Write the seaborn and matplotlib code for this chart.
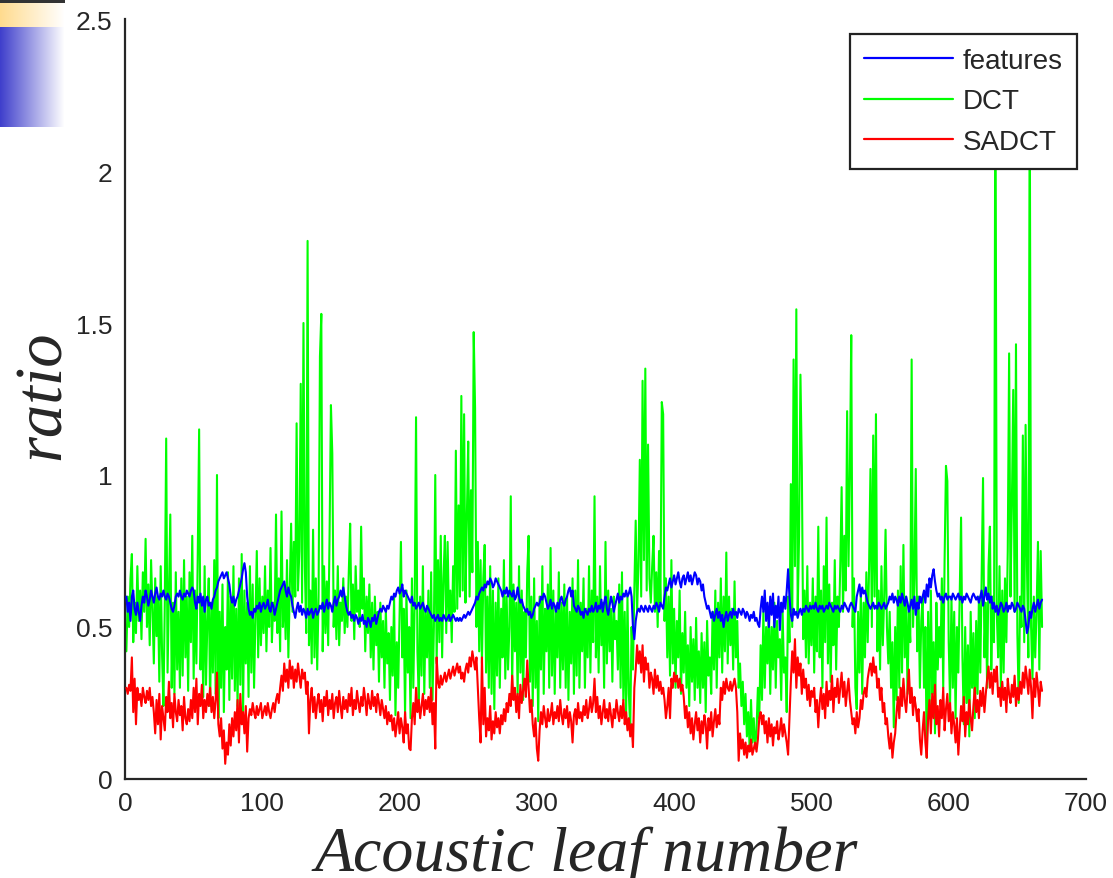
import numpy as np
import pandas as pd
import matplotlib
matplotlib.use("Agg")
import matplotlib.pyplot as plt
from matplotlib.ticker import FuncFormatter
from matplotlib.lines import Line2D
import seaborn as sns

# ratio per acoustic leaf, three coding schemes
features = [
    0.6,0.55,0.58,0.52,0.6,0.62,0.56,0.54,0.58,0.55,0.52,0.57,0.6,0.58,0.62,0.6,0.57,0.59,0.62,0.6,
    0.58,0.61,0.63,0.6,0.59,0.61,0.6,0.62,0.6,0.59,0.61,0.6,0.58,0.56,0.55,0.57,0.6,0.61,0.6,0.62,
    0.6,0.59,0.61,0.6,0.62,0.61,0.6,0.62,0.63,0.62,0.58,0.56,0.6,0.58,0.61,0.57,0.6,0.55,0.59,0.6,
    0.57,0.58,0.56,0.59,0.6,0.62,0.63,0.65,0.66,0.67,0.68,0.66,0.67,0.68,0.66,0.64,0.6,0.58,0.6,0.57,
    0.59,0.6,0.62,0.64,0.66,0.69,0.71,0.68,0.6,0.56,0.54,0.55,0.53,0.56,0.55,0.57,0.56,0.58,0.55,0.57,
    0.58,0.56,0.57,0.59,0.56,0.55,0.58,0.57,0.54,0.56,0.58,0.6,0.62,0.63,0.64,0.65,0.62,0.6,0.63,0.61,
    0.6,0.57,0.55,0.53,0.56,0.58,0.55,0.57,0.54,0.56,0.55,0.53,0.56,0.54,0.55,0.56,0.53,0.55,0.56,0.54,
    0.55,0.57,0.56,0.58,0.55,0.57,0.59,0.56,0.58,0.57,0.55,0.58,0.6,0.57,0.59,0.6,0.62,0.6,0.63,0.6,
    0.57,0.55,0.54,0.55,0.53,0.54,0.52,0.54,0.53,0.51,0.53,0.52,0.54,0.51,0.52,0.5,0.53,0.52,0.5,0.53,
    0.52,0.54,0.51,0.53,0.55,0.56,0.55,0.57,0.56,0.55,0.57,0.56,0.58,0.6,0.59,0.61,0.6,0.62,0.63,0.61,
    0.62,0.64,0.6,0.62,0.61,0.6,0.59,0.58,0.6,0.57,0.58,0.56,0.57,0.58,0.56,0.57,0.58,0.56,0.55,0.57,
    0.56,0.55,0.54,0.53,0.54,0.52,0.53,0.54,0.52,0.53,0.52,0.54,0.53,0.52,0.53,0.54,0.52,0.53,0.54,0.53,
    0.52,0.53,0.52,0.53,0.52,0.53,0.54,0.53,0.54,0.55,0.54,0.55,0.56,0.57,0.58,0.6,0.59,0.61,0.62,0.63,
    0.62,0.64,0.63,0.65,0.64,0.66,0.65,0.63,0.64,0.66,0.65,0.64,0.63,0.62,0.6,0.62,0.61,0.63,0.6,0.62,
    0.61,0.6,0.62,0.59,0.6,0.63,0.6,0.58,0.59,0.57,0.56,0.55,0.56,0.54,0.55,0.53,0.54,0.56,0.57,0.58,
    0.57,0.58,0.6,0.59,0.61,0.6,0.58,0.56,0.57,0.59,0.56,0.58,0.57,0.55,0.58,0.56,0.59,0.6,0.58,0.57,
    0.59,0.6,0.62,0.63,0.6,0.62,0.57,0.56,0.55,0.57,0.56,0.54,0.55,0.53,0.56,0.55,0.54,0.56,0.55,0.57,
    0.55,0.56,0.58,0.55,0.57,0.56,0.59,0.55,0.58,0.6,0.56,0.54,0.57,0.6,0.58,0.55,0.57,0.59,0.61,0.58,
    0.6,0.59,0.61,0.6,0.62,0.6,0.61,0.63,0.6,0.5,0.46,0.52,0.55,0.56,0.55,0.57,0.56,0.55,0.57,0.56,
    0.55,0.57,0.56,0.55,0.57,0.56,0.58,0.57,0.55,0.58,0.57,0.56,0.6,0.63,0.62,0.64,0.66,0.63,0.65,0.67,
    0.64,0.66,0.68,0.65,0.63,0.66,0.67,0.64,0.66,0.68,0.65,0.67,0.64,0.66,0.68,0.67,0.64,0.66,0.65,0.62,
    0.64,0.6,0.58,0.56,0.57,0.55,0.53,0.55,0.52,0.54,0.56,0.53,0.55,0.52,0.54,0.5,0.53,0.55,0.52,0.54,
    0.55,0.53,0.56,0.54,0.55,0.53,0.56,0.55,0.54,0.56,0.55,0.53,0.55,0.54,0.52,0.54,0.53,0.55,0.52,0.53,
    0.51,0.5,0.56,0.6,0.55,0.62,0.52,0.58,0.5,0.6,0.54,0.61,0.5,0.57,0.53,0.6,0.49,0.58,0.55,0.6,
    0.56,0.62,0.69,0.6,0.54,0.52,0.56,0.54,0.55,0.53,0.55,0.56,0.54,0.56,0.55,0.57,0.56,0.55,0.57,0.56,
    0.57,0.56,0.58,0.56,0.55,0.57,0.56,0.57,0.55,0.56,0.57,0.56,0.58,0.57,0.56,0.55,0.57,0.56,0.57,0.56,
    0.55,0.57,0.56,0.58,0.57,0.56,0.55,0.57,0.58,0.57,0.56,0.55,0.6,0.62,0.64,0.6,0.63,0.61,0.62,0.6,
    0.58,0.57,0.56,0.57,0.58,0.56,0.57,0.56,0.58,0.57,0.56,0.57,0.58,0.56,0.57,0.58,0.6,0.59,0.61,0.58,
    0.6,0.59,0.57,0.6,0.58,0.61,0.59,0.57,0.6,0.58,0.55,0.57,0.59,0.56,0.6,0.54,0.58,0.56,0.6,0.58,
    0.6,0.62,0.58,0.64,0.6,0.66,0.63,0.67,0.69,0.65,0.62,0.6,0.61,0.59,0.6,0.58,0.6,0.61,0.59,0.6,
    0.6,0.59,0.61,0.6,0.59,0.6,0.61,0.59,0.6,0.58,0.6,0.59,0.61,0.6,0.59,0.58,0.6,0.61,0.6,0.59,
    0.6,0.58,0.6,0.62,0.57,0.6,0.63,0.59,0.61,0.58,0.6,0.56,0.58,0.55,0.57,0.54,0.56,0.58,0.57,0.55,
    0.56,0.58,0.55,0.57,0.56,0.58,0.57,0.55,0.56,0.58,0.57,0.56,0.55,0.57,0.56,0.52,0.48,0.5,0.55,0.53,
    0.56,0.58,0.55,0.57,0.59,0.56,0.58,0.59,
]

dct = [
    0.42,0.6,0.5,0.66,0.74,0.45,0.58,0.48,0.7,0.52,0.62,0.46,0.68,0.55,0.79,0.5,0.64,0.44,0.72,0.56,
    0.38,0.66,0.47,0.6,0.32,0.7,0.41,0.24,0.58,1.12,0.35,0.62,0.87,0.3,0.58,0.28,0.68,0.36,0.55,0.3,
    0.66,0.34,0.72,0.4,0.6,0.29,0.68,0.45,0.8,0.33,0.62,0.38,0.74,1.15,0.36,0.57,0.27,0.7,0.31,0.52,
    0.66,0.24,0.58,0.35,0.72,0.28,1.0,0.2,0.55,0.3,0.64,0.22,0.5,0.36,0.68,0.26,0.6,0.33,0.7,0.29,
    0.56,0.24,0.66,0.31,0.74,0.22,0.62,0.38,0.58,0.27,0.7,0.35,0.64,0.3,0.52,0.75,0.4,0.66,0.44,0.6,
    0.48,0.7,0.42,0.62,0.5,0.76,0.45,0.58,0.52,0.87,0.48,0.66,0.42,0.88,0.5,0.64,0.46,0.72,0.4,0.62,
    0.84,0.55,0.78,0.6,1.17,0.62,0.75,1.3,0.58,1.5,0.7,0.48,1.77,0.44,0.62,0.38,0.82,0.4,0.66,0.36,
    0.6,1.39,1.53,0.42,0.7,0.48,0.65,0.44,0.8,1.23,1.07,0.5,0.62,0.46,0.7,0.44,0.58,0.52,0.66,0.48,
    0.6,0.5,0.68,0.84,0.52,0.64,0.46,0.7,0.55,0.62,0.5,0.83,0.56,0.66,0.42,0.6,0.48,0.64,0.4,0.58,
    0.36,0.6,0.44,0.55,0.32,0.58,0.4,0.52,0.3,0.56,0.38,0.48,0.26,0.5,0.34,0.6,0.21,0.45,0.3,0.55,
    0.78,0.4,0.56,0.21,0.62,0.35,0.5,0.2,0.66,0.3,0.58,1.19,0.42,0.26,0.6,0.34,0.7,0.28,0.55,0.4,
    0.62,0.3,0.68,0.26,0.5,1.0,0.38,0.72,0.45,0.8,0.4,0.66,0.8,0.48,0.78,0.52,0.62,0.45,0.7,0.55,
    1.08,0.56,0.9,0.6,1.26,0.62,1.2,0.58,0.86,1.11,0.6,0.95,0.68,1.47,1.22,0.5,0.78,0.42,0.72,0.38,
    0.66,0.77,0.35,0.6,0.3,0.7,0.28,0.62,0.23,0.58,0.34,0.66,0.3,0.56,0.4,0.72,0.33,0.6,0.36,0.5,
    0.93,0.3,0.64,0.42,0.58,0.28,0.7,0.35,0.62,0.26,0.55,0.4,0.68,0.8,0.32,0.6,0.24,0.66,0.3,0.52,
    0.19,0.6,0.36,0.7,0.28,0.56,0.42,0.64,0.3,0.76,0.34,0.62,0.28,0.55,0.4,0.68,0.3,0.58,0.36,0.64,
    0.3,0.6,0.26,0.55,0.38,0.66,0.28,0.62,0.34,0.72,0.3,0.58,0.42,0.66,0.3,0.56,0.4,0.7,0.35,0.62,
    0.45,0.93,0.4,0.6,0.35,0.7,0.44,0.58,0.3,0.78,0.38,0.62,0.42,0.56,0.32,0.6,0.46,0.52,0.36,0.64,
    0.3,0.68,0.26,0.55,0.2,0.6,0.28,0.17,0.5,0.36,0.62,0.85,0.55,0.7,1.05,0.6,1.31,0.72,1.35,0.62,
    1.1,0.66,0.58,0.7,0.8,0.55,0.68,0.5,0.75,0.58,1.24,1.2,0.52,0.66,0.4,0.6,0.34,0.72,0.38,0.56,
    0.3,0.52,0.4,0.62,0.28,0.48,0.35,0.55,0.3,0.44,0.24,0.5,0.32,0.46,0.26,0.53,0.3,0.42,0.25,0.48,
    0.3,0.45,0.22,0.52,0.34,0.4,0.28,0.55,0.36,0.62,0.3,0.58,0.4,0.66,0.35,0.6,0.42,0.745,0.38,0.6,
    0.44,0.56,0.36,0.65,0.4,0.52,0.3,0.38,0.24,0.32,0.18,0.28,0.14,0.22,0.1,0.26,0.12,0.2,0.1,0.16,
    0.3,0.2,0.44,0.26,0.55,0.3,0.5,0.38,0.56,0.28,0.5,0.36,0.58,0.3,0.52,0.4,0.46,0.26,0.55,0.35,
    0.4,0.22,0.6,0.45,0.97,0.5,1.38,0.7,1.545,0.55,0.8,1.33,1.03,0.46,0.62,0.4,0.7,0.38,0.58,0.44,
    0.66,0.35,0.6,0.42,0.83,0.4,0.62,0.3,0.7,0.45,0.86,0.38,0.64,0.32,0.58,0.44,0.72,0.36,0.6,0.5,
    0.7,0.96,0.55,0.8,0.62,1.21,0.7,1.0,1.46,0.5,0.66,0.3,0.23,0.55,0.35,0.62,0.28,0.58,0.4,0.68,
    0.45,0.7,1.02,0.5,1.13,0.6,1.2,0.42,0.62,0.36,0.7,0.44,0.6,0.82,0.5,0.38,0.55,0.3,0.45,0.17,
    0.5,0.26,0.62,0.3,0.7,0.35,0.77,0.4,0.6,0.28,0.55,0.45,1.38,0.5,0.66,1.02,0.42,0.6,0.3,0.52,
    0.6,0.3,0.5,0.07,0.55,0.2,0.62,0.28,0.45,0.15,0.58,0.36,0.5,0.4,0.66,0.3,0.72,1.03,0.98,0.45,
    0.25,0.6,0.3,0.55,0.2,0.5,0.35,0.6,0.86,0.4,0.18,0.5,0.25,0.44,0.14,0.55,0.3,0.48,0.2,0.52,
    0.28,0.6,0.35,0.66,0.99,0.4,0.58,0.3,0.7,0.83,0.36,0.6,0.45,2.45,0.55,0.4,0.7,0.3,0.62,0.35,
    0.66,0.45,0.75,1.4,0.6,0.9,1.28,0.55,1.43,0.48,0.25,0.6,0.5,1.13,0.45,1.165,0.7,0.4,2.3,0.5,
    0.33,0.6,0.4,0.55,0.78,0.36,0.75,0.5,
]

sadct = [
    0.3,0.28,0.31,0.29,0.4,0.22,0.33,0.18,0.3,0.26,0.28,0.24,0.3,0.27,0.25,0.29,0.26,0.3,0.24,0.27,
    0.22,0.15,0.26,0.18,0.28,0.13,0.24,0.2,0.16,0.27,0.22,0.32,0.2,0.25,0.17,0.28,0.22,0.19,0.26,0.21,
    0.24,0.16,0.27,0.2,0.18,0.23,0.19,0.26,0.2,0.3,0.22,0.33,0.18,0.28,0.24,0.31,0.2,0.26,0.22,0.28,
    0.24,0.3,0.22,0.27,0.2,0.26,0.35,0.18,0.14,0.2,0.1,0.16,0.05,0.12,0.08,0.18,0.11,0.2,0.14,0.22,
    0.16,0.26,0.12,0.28,0.18,0.22,0.15,0.24,0.09,0.2,0.23,0.21,0.25,0.22,0.2,0.24,0.21,0.23,0.25,0.2,
    0.22,0.24,0.21,0.25,0.22,0.2,0.23,0.25,0.22,0.26,0.28,0.25,0.3,0.34,0.29,0.38,0.32,0.36,0.3,0.39,
    0.33,0.37,0.3,0.36,0.32,0.38,0.34,0.3,0.36,0.33,0.35,0.28,0.32,0.15,0.26,0.3,0.22,0.27,0.2,0.25,
    0.28,0.22,0.26,0.19,0.27,0.24,0.29,0.21,0.26,0.23,0.28,0.2,0.25,0.27,0.22,0.29,0.24,0.2,0.27,0.23,
    0.26,0.22,0.28,0.24,0.3,0.21,0.26,0.23,0.29,0.25,0.22,0.27,0.24,0.3,0.26,0.21,0.28,0.25,0.23,0.29,
    0.24,0.27,0.22,0.28,0.25,0.21,0.26,0.23,0.2,0.24,0.18,0.22,0.19,0.21,0.16,0.2,0.14,0.18,0.22,0.15,
    0.2,0.17,0.12,0.22,0.15,0.18,0.1,0.095,0.2,0.25,0.18,0.3,0.22,0.26,0.2,0.24,0.28,0.21,0.26,0.23,
    0.27,0.22,0.3,0.18,0.25,0.1,0.4,0.32,0.3,0.34,0.31,0.33,0.35,0.32,0.34,0.36,0.33,0.35,0.37,0.34,
    0.36,0.38,0.35,0.37,0.33,0.35,0.32,0.36,0.38,0.35,0.4,0.37,0.42,0.39,0.36,0.4,0.3,0.2,0.12,0.4,
    0.18,0.3,0.14,0.2,0.16,0.24,0.13,0.19,0.15,0.22,0.17,0.2,0.15,0.21,0.18,0.23,0.19,0.25,0.22,0.28,
    0.24,0.34,0.26,0.3,0.22,0.28,0.2,0.31,0.25,0.29,0.33,0.27,0.39,0.3,0.22,0.26,0.18,0.14,0.2,0.1,
    0.06,0.16,0.22,0.18,0.24,0.2,0.17,0.23,0.19,0.21,0.25,0.18,0.22,0.2,0.24,0.19,0.26,0.21,0.18,0.23,
    0.2,0.24,0.17,0.22,0.19,0.12,0.21,0.23,0.18,0.25,0.2,0.22,0.19,0.24,0.21,0.26,0.2,0.23,0.27,0.22,
    0.25,0.33,0.22,0.27,0.2,0.24,0.18,0.22,0.26,0.2,0.23,0.19,0.25,0.21,0.17,0.23,0.2,0.26,0.22,0.19,
    0.24,0.2,0.26,0.18,0.22,0.16,0.2,0.14,0.18,0.105,0.3,0.36,0.44,0.38,0.42,0.35,0.44,0.32,0.4,0.36,
    0.38,0.3,0.35,0.33,0.28,0.36,0.3,0.34,0.29,0.32,0.28,0.3,0.26,0.2,0.24,0.3,0.2,0.33,0.3,0.35,
    0.32,0.34,0.3,0.33,0.29,0.31,0.27,0.2,0.24,0.17,0.22,0.15,0.2,0.13,0.18,0.22,0.16,0.2,0.12,0.19,
    0.15,0.21,0.18,0.1,0.2,0.16,0.22,0.14,0.19,0.23,0.17,0.21,0.18,0.3,0.26,0.32,0.28,0.33,0.3,0.29,
    0.32,0.29,0.31,0.33,0.3,0.22,0.06,0.15,0.1,0.13,0.08,0.12,0.07,0.11,0.09,0.13,0.08,0.1,0.12,0.09,
    0.13,0.2,0.22,0.18,0.21,0.15,0.19,0.12,0.2,0.14,0.18,0.11,0.17,0.15,0.19,0.13,0.16,0.2,0.14,0.18,
    0.15,0.12,0.08,0.2,0.32,0.42,0.35,0.46,0.3,0.4,0.34,0.38,0.28,0.36,0.3,0.33,0.26,0.31,0.24,0.29,
    0.27,0.3,0.22,0.26,0.17,0.25,0.3,0.23,0.28,0.2,0.32,0.24,0.29,0.26,0.34,0.22,0.3,0.27,0.33,0.25,
    0.3,0.35,0.27,0.32,0.24,0.29,0.33,0.26,0.22,0.18,0.2,0.15,0.22,0.17,0.2,0.26,0.23,0.28,0.3,0.27,
    0.33,0.36,0.38,0.34,0.4,0.35,0.37,0.3,0.33,0.26,0.3,0.22,0.25,0.18,0.2,0.14,0.1,0.15,0.07,0.12,
    0.15,0.22,0.27,0.2,0.3,0.24,0.33,0.26,0.22,0.29,0.36,0.25,0.3,0.21,0.27,0.24,0.19,0.23,0.13,0.08,
    0.16,0.22,0.12,0.07,0.2,0.26,0.15,0.28,0.2,0.31,0.18,0.24,0.14,0.26,0.2,0.3,0.16,0.23,0.28,0.19,
    0.25,0.15,0.22,0.18,0.12,0.2,0.08,0.16,0.24,0.19,0.27,0.14,0.22,0.18,0.26,0.2,0.16,0.24,0.3,0.22,
    0.26,0.2,0.29,0.24,0.3,0.22,0.28,0.33,0.37,0.3,0.35,0.28,0.36,0.32,0.37,0.27,0.3,0.24,0.32,0.26,
    0.3,0.22,0.33,0.28,0.25,0.31,0.27,0.34,0.24,0.3,0.26,0.32,0.28,0.35,0.3,0.37,0.33,0.28,0.36,0.3,
    0.2,0.33,0.27,0.35,0.3,0.24,0.32,0.29,
]

series_names = ["features", "DCT", "SADCT"]
series_colors = {"features": "#0000ff", "DCT": "#00ff00", "SADCT": "#ff0000"}
x_ticks = [0, 100, 200, 300, 400, 500, 600, 700]
y_ticks = [0, 0.5, 1, 1.5, 2, 2.5]

frames = []
for name, vals in zip(series_names, [features, dct, sadct]):
    frames.append(pd.DataFrame({"leaf": np.arange(1, len(vals) + 1),
                                "ratio": vals, "series": name}))
df = pd.concat(frames, ignore_index=True)

sns.set_style("white")
plt.rcParams["font.family"] = ["Liberation Sans", "DejaVu Sans"]

W, H = 1113, 879
fig = plt.figure(figsize=(W / 100, H / 100), dpi=100)
ax = fig.add_axes([125 / W, 1 - 780 / H, (1086 - 125) / W, (780 - 20) / H])

zorders = {"features": 4, "DCT": 2, "SADCT": 3}
for name in ["DCT", "SADCT", "features"]:
    sns.lineplot(data=df[df["series"] == name], x="leaf", y="ratio",
                 color=series_colors[name], linewidth=1.5, ax=ax,
                 estimator=None, sort=False, zorder=zorders[name], legend=False)

ax.set_xlim(0, 700)
ax.set_ylim(0, 2.5)
ax.set_xticks(x_ticks)
ax.set_yticks(y_ticks)
ax.yaxis.set_major_formatter(FuncFormatter(lambda v, p: f"{v:g}"))
ax.set_xlabel("")
ax.set_ylabel("")
ax.tick_params(direction="in", length=8, width=1.3, labelsize=19,
               colors="#262626", pad=9)
sns.despine(ax=ax)
for side in ["left", "bottom"]:
    ax.spines[side].set_linewidth(1.6)
    ax.spines[side].set_color("#262626")

handles = [Line2D([], [], color=series_colors[n], linewidth=1.6) for n in series_names]
leg = ax.legend(handles, series_names, loc="upper right",
                bbox_to_anchor=((1077 - 125) / (1086 - 125), (780 - 35) / (780 - 20)),
                borderaxespad=0, fontsize=20, frameon=True, fancybox=False,
                framealpha=1, edgecolor="#222222", handlelength=3.2,
                handletextpad=0.38, labelspacing=0.52, borderpad=0.5)
leg.get_frame().set_linewidth(1.6)
leg.set_zorder(10)

fig.text(586 / W, 1 - 856 / H, "Acoustic leaf number", ha="center", va="center",
         fontsize=46, style="italic", family=["Liberation Serif", "DejaVu Serif"])
fig.text(43 / W, 1 - 395 / H, "ratio", ha="center", va="center", rotation=90,
         fontsize=48, style="italic", family=["Liberation Serif", "DejaVu Serif"])

# slide ornament in the top-left corner
orn_w, orn_h = 65, 128
img = np.ones((orn_h, orn_w, 3))
t = np.linspace(0, 1, orn_w)[None, :, None]
orange = np.array([1.0, 0.86, 0.56])[None, None, :]
blue = np.array([0.25, 0.25, 0.80])[None, None, :]
img[0:4] = 0.2
img[4:28] = orange * (1 - t) + 1.0 * t
img[28:128] = blue * (1 - t) + 1.0 * t
oax = fig.add_axes([0, 1 - orn_h / H, orn_w / W, orn_h / H])
oax.imshow(img, aspect="auto", interpolation="bilinear")
oax.axis("off")

fig.savefig("out.png", dpi=100)
